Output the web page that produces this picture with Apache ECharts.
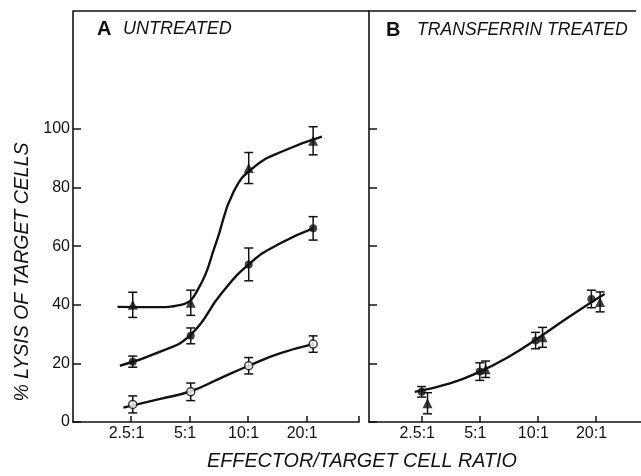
<!DOCTYPE html>
<html>
<head>
<meta charset="utf-8">
<script src="https://cdn.jsdelivr.net/npm/echarts@6/dist/echarts.min.js"></script>
<style>
html,body{margin:0;padding:0;background:#fff;}
#chart{width:641px;height:476px;}
</style>
</head>
<body>
<div id="chart"></div>
<script>
// ---- categories / ticks ----
const ratioLabels = ['2.5:1', '5:1', '10:1', '20:1'];
const ratioTicks = [0, 1, 2, 3];
const yTickValues = [0, 20, 40, 60, 80, 100];

// ---- Panel A (untreated): x in dilution steps (0 = 2.5:1) ----
const aPointX = [0.03, 1.02, 2.01, 3.11];
const aTriangleY = [40, 40.7, 86.7, 96];
const aTriangleErr = [4.3, 4.3, 5.3, 4.8];
const aFilledY = [20.6, 29.4, 53.8, 66.1];
const aFilledErr = [1.9, 2.7, 5.6, 4.0];
const aOpenY = [6.0, 10.3, 19.2, 26.6];
const aOpenErr = [2.9, 3.0, 2.8, 2.8];

// fitted curves
const aTriCurveX = [-0.23, 0.4, 0.85, 1.15, 1.45, 1.75, 2.1, 2.6, 3.26];
const aTriCurveY = [39.3, 39.2, 40.0, 45.5, 61.0, 78.5, 87.0, 92.5, 97.4];
const aFilledCurveX = [-0.19, 0.5, 1.02, 1.55, 2.05, 2.55, 3.11];
const aFilledCurveY = [19.2, 24.0, 29.8, 44.0, 54.5, 61.0, 66.1];
const aOpenCurveX = [-0.13, 0.5, 1.02, 1.52, 2.01, 2.54, 3.11];
const aOpenCurveY = [4.9, 7.9, 10.5, 14.9, 19.2, 23.4, 26.6];

// ---- Panel B (transferrin treated) ----
const bCircleX = [0, 1.0, 1.96, 2.92];
const bCircleY = [10.3, 17.2, 27.8, 42];
const bCircleErr = [1.8, 3.0, 2.8, 3.0];
const bTriangleX = [0.1, 1.1, 2.08, 3.07];
const bTriangleY = [6.4, 18, 28.9, 41];
const bTriangleErr = [3.6, 2.8, 3.4, 3.4];
const bCurveX = [-0.12, 0.5, 1.0, 1.5, 2.0, 2.5, 3.0, 3.15];
const bCurveY = [10.3, 13.3, 17.2, 22.3, 28.6, 35.4, 41.9, 43.7];

const INK = '#111';
const FONT = "'Liberation Sans', Arial, sans-serif";

function zip(xs, ys) { return xs.map((x, i) => [x, ys[i]]); }

function curve(xs, ys, gi) {
  return {
    type: 'line', xAxisIndex: gi, yAxisIndex: gi, data: zip(xs, ys),
    smooth: 0.5, showSymbol: false, symbol: 'none', silent: true,
    lineStyle: { color: INK, width: 2.4 }, z: 2
  };
}

function errBars(xs, ys, errs, gi) {
  return {
    type: 'custom', xAxisIndex: gi, yAxisIndex: gi, z: 3, silent: true,
    data: xs.map((x, i) => [x, ys[i] - errs[i], ys[i] + errs[i]]),
    renderItem: function (params, api) {
      const lo = api.coord([api.value(0), api.value(1)]);
      const hi = api.coord([api.value(0), api.value(2)]);
      const w = 4.5;
      const st = { stroke: INK, lineWidth: 1.5 };
      return {
        type: 'group',
        children: [
          { type: 'line', shape: { x1: lo[0], y1: lo[1], x2: hi[0], y2: hi[1] }, style: st },
          { type: 'line', shape: { x1: lo[0] - w, y1: lo[1], x2: lo[0] + w, y2: lo[1] }, style: st },
          { type: 'line', shape: { x1: hi[0] - w, y1: hi[1], x2: hi[0] + w, y2: hi[1] }, style: st }
        ]
      };
    }
  };
}

function markers(xs, ys, gi, kind) {
  const s = {
    type: 'scatter', xAxisIndex: gi, yAxisIndex: gi, data: zip(xs, ys), z: 5, silent: true
  };
  if (kind === 'triangle') {
    s.symbol = 'triangle'; s.symbolSize = 10;
    s.itemStyle = { color: INK };
  } else if (kind === 'dot') {
    s.symbol = 'circle'; s.symbolSize = 8;
    s.itemStyle = { color: INK };
  } else {
    s.symbol = 'circle'; s.symbolSize = 8;
    s.itemStyle = { color: '#fff', borderColor: INK, borderWidth: 1.5 };
  }
  return s;
}

const xAxisCommon = {
  type: 'value',
  axisLine: { show: true, onZero: false, lineStyle: { color: INK, width: 1.6 } },
  splitLine: { show: false },
  axisLabel: {
    show: true, color: INK, fontSize: 16, fontFamily: FONT, margin: 4,
    customValues: ratioTicks, padding: [0, 9, 0, 0],
    formatter: v => ratioLabels[Math.round(v)]
  }
};

const yAxisCommon = {
  type: 'value', min: 0, max: 140.3,
  axisLine: { show: true, onZero: false, lineStyle: { color: INK, width: 1.6 } },
  splitLine: { show: false },
  axisTick: { show: true, inside: true, length: 8, customValues: yTickValues, lineStyle: { color: INK, width: 1.5 } }
};

const option = {
  backgroundColor: '#fff',
  animation: false,
  grid: [
    { left: 73, top: 11, width: 286, height: 411 },
    { left: 369, top: 11, width: 272, height: 411 }
  ],
  xAxis: [
    Object.assign({}, xAxisCommon, {
      gridIndex: 0, min: -0.99, max: 3.893,
      axisTick: { show: true, inside: true, length: 6, customValues: ratioTicks.concat([3.893]), lineStyle: { color: INK, width: 1.5 } }
    }),
    Object.assign({}, xAxisCommon, {
      gridIndex: 1, min: -0.907, max: 3.774,
      axisTick: { show: true, inside: true, length: 6, customValues: ratioTicks, lineStyle: { color: INK, width: 1.5 } }
    })
  ],
  yAxis: [
    Object.assign({}, yAxisCommon, {
      gridIndex: 0,
      axisLabel: { show: true, color: INK, fontSize: 16, fontFamily: FONT, margin: 3, customValues: yTickValues }
    }),
    Object.assign({}, yAxisCommon, {
      gridIndex: 1,
      axisLabel: { show: false }
    })
  ],
  graphic: [
    { type: 'line', shape: { x1: 73, y1: 11, x2: 636, y2: 11 }, style: { stroke: INK, lineWidth: 1.6 }, silent: true },
    { type: 'text', x: 97, y: 29, style: { text: 'A', font: "bold 20px " + FONT, fill: INK, align: 'left', verticalAlign: 'middle' } },
    { type: 'text', x: 123, y: 29, style: { text: 'UNTREATED', font: "italic 18px " + FONT, fill: INK, align: 'left', verticalAlign: 'middle' } },
    { type: 'text', x: 386, y: 30, style: { text: 'B', font: "bold 20px " + FONT, fill: INK, align: 'left', verticalAlign: 'middle' } },
    { type: 'text', x: 417, y: 30, style: { text: 'TRANSFERRIN TREATED', font: "italic 17.6px " + FONT, fill: INK, align: 'left', verticalAlign: 'middle' } },
    { type: 'text', x: 23, y: 272, rotation: Math.PI / 2,
      style: { text: '% LYSIS OF TARGET CELLS', font: "italic 19.5px " + FONT, fill: INK, align: 'center', verticalAlign: 'middle' } },
    { type: 'text', x: 362, y: 461,
      style: { text: 'EFFECTOR/TARGET CELL RATIO', font: "italic 19.8px " + FONT, fill: INK, align: 'center', verticalAlign: 'middle' } }
  ],
  series: [
    curve(aTriCurveX, aTriCurveY, 0),
    curve(aFilledCurveX, aFilledCurveY, 0),
    curve(aOpenCurveX, aOpenCurveY, 0),
    curve(bCurveX, bCurveY, 1),
    errBars(aPointX, aTriangleY, aTriangleErr, 0),
    errBars(aPointX, aFilledY, aFilledErr, 0),
    errBars(aPointX, aOpenY, aOpenErr, 0),
    errBars(bCircleX, bCircleY, bCircleErr, 1),
    errBars(bTriangleX, bTriangleY, bTriangleErr, 1),
    markers(aPointX, aTriangleY, 0, 'triangle'),
    markers(aPointX, aFilledY, 0, 'dot'),
    markers(aPointX, aOpenY, 0, 'open'),
    markers(bCircleX, bCircleY, 1, 'dot'),
    markers(bTriangleX, bTriangleY, 1, 'triangle')
  ]
};

const chart = echarts.init(document.getElementById('chart'), null, { renderer: 'canvas' });
chart.setOption(option);
</script>
</body>
</html>
